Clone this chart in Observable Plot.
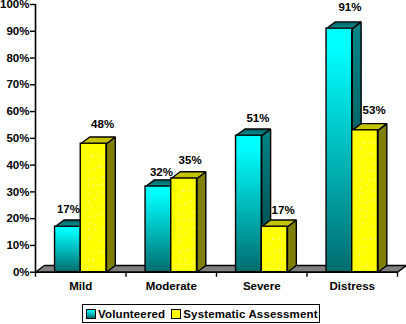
<!DOCTYPE html>
<html>
<head>
<meta charset="utf-8">
<script src="https://cdn.jsdelivr.net/npm/d3@7"></script>
<script src="https://cdn.jsdelivr.net/npm/@observablehq/plot@0.6"></script>
<style>
html,body{margin:0;padding:0;background:#fff;overflow:hidden}
svg{display:block}
#legend{position:absolute;left:82px;top:304px;width:236px;height:17px;border:1.5px solid #000;display:flex;align-items:center;font:bold 11.5px "Liberation Sans",Arial,sans-serif;letter-spacing:.15px;color:#000;background:#fff;white-space:nowrap}
#legend i{display:block;flex:none;box-sizing:border-box;width:10px;height:10px;border:1.5px solid #000;margin:0 2px 0 3px}
#legend span{display:block;flex:none;margin-right:3px}
</style>
</head>
<body>
<div id="chart"></div>
<div id="legend"></div>
<script>
const categories = ["Mild", "Moderate", "Severe", "Distress"];
const seriesNames = ["Volunteered", "Systematic Assessment"];
const volunteered = [17, 32, 51, 91];
const systematic = [48, 35, 17, 53];
const yTicks = [0, 10, 20, 30, 40, 50, 60, 70, 80, 90, 100];

// label nudges, in pixels, in bar order
const labelDx = [0.5, 9, 3, 6, 9, 8.5, 10.5, 9];
const labelDy = [-17.3, -19, -14.7, -18.5, -17, -16, -21.5, -20];

// speckle texture on the yellow bars: share across the bar, percentage points below the bar top
const speckleAcross = [.43,.5,.68,.86,.32,.77,.68,.53,.34,.5,.3,.86,.3,.5,.68,.86,.36,.64,.86,.57,.32,.4,.27,.86,.57,.68,.86,.36,.36,.53,.86,.3,.57,.4,.77,.3,.5,.73,.9,.3,.5,.46,.27,.3,.6,.45];
const speckleDepth = [4.75,4.5,4.5,5,6.75,8.5,8.9,9.5,10.1,12.9,13.5,12.25,15.75,15.75,15.4,15.1,18.5,18.9,18.5,20.75,21.6,23.25,24.1,22.9,27,26.6,26,27.25,29.75,30.4,31.25,32,32,34.75,36,35.4,40.75,40.4,40.4,43.5,43.5,45.75,46.6,49,50,51];

// 3-D depth of the pseudo-perspective, in scale units
const depthX = 0.098, depthY = 2.5, barW = 0.284;

const palette = {
  cyan: {front: "url(#cyanFront)", side: "url(#cyanSide)", top: "url(#cyanTop)"},
  yellow: {front: "#ffff00", side: "#808000", top: "#c4c400"}
};

const defs = () => d3.create("svg:defs").html(`
  <linearGradient id="cyanFront" x1="0" y1="0" x2="0" y2="1">
    <stop offset="0" stop-color="#00ffff"/><stop offset=".08" stop-color="#00ffff"/><stop offset="1" stop-color="#006c6e"/>
  </linearGradient>
  <linearGradient id="cyanSide" x1="0" y1="0" x2="0" y2="1">
    <stop offset="0" stop-color="#008688"/><stop offset="1" stop-color="#003c3e"/>
  </linearGradient>
  <linearGradient id="cyanTop" x1="0" y1="1" x2="0" y2="0">
    <stop offset="0" stop-color="#009a9c"/><stop offset="1" stop-color="#005c5e"/>
  </linearGradient>`).node();

const poly = (pts, fill) => Plot.line([...pts, pts[0]], {x: "0", y: "1", fill, stroke: "#000", strokeWidth: 1.4, strokeLinejoin: "miter"});

const bars = [];
categories.forEach((c, i) => {
  bars.push({x0: i + 0.5 - barW, v: volunteered[i], col: palette.cyan, yellow: false});
  bars.push({x0: i + 0.5, v: systematic[i], col: palette.yellow, yellow: true});
});
bars.forEach((b) => (b.x1 = b.x0 + barW));

const barMarks = bars.flatMap((b) => [
  poly([[b.x1, 0], [b.x1 + depthX, depthY], [b.x1 + depthX, b.v + depthY], [b.x1, b.v]], b.col.side),
  poly([[b.x0, b.v], [b.x0 + depthX, b.v + depthY], [b.x1 + depthX, b.v + depthY], [b.x1, b.v]], b.col.top),
  Plot.rect([b], {x1: "x0", x2: "x1", y1: 0, y2: "v", fill: b.col.front, stroke: "#000", strokeWidth: 1.4})
]);

const speckles = bars.filter((b) => b.yellow).flatMap((b) =>
  speckleAcross.map((a, k) => ({x: b.x0 + a * barW, y: b.v - speckleDepth[k]})).filter((d) => d.y > 0.6)
);

const labels = bars.map((b, i) => ({x: b.x0 + barW / 2, y: b.v, dx: labelDx[i], dy: labelDy[i]}));

const labelFont = {fontFamily: "'Liberation Sans',Arial,sans-serif", fontWeight: "bold", fontSize: 11.5, fill: "#000"};

const chart = Plot.plot({
  width: 406,
  height: 300,
  marginLeft: 35,
  marginRight: 9,
  marginTop: 4,
  marginBottom: 28.3,
  style: {background: "#fff", overflow: "visible"},
  x: {type: "linear", domain: [0, 4]},
  y: {type: "linear", domain: [0, 100]},
  marks: [
    defs,
    poly([[0, 0], [depthX, depthY], [4 + depthX, depthY], [4, 0]], "#808080"),
    ...barMarks,
    Plot.dot(speckles, {x: "x", y: "y", r: 0.6, fill: "#fff", stroke: "none"}),
    Plot.ruleX([0], {y1: 0, y2: 100, stroke: "#000", strokeWidth: 1.6}),
    Plot.ruleY([0], {stroke: "#000", strokeWidth: 1.6}),
    Plot.axisY({ticks: yTicks, tickSize: 5, tickPadding: 1, tickFormat: (d) => d + "%", label: null, strokeWidth: 1.4, ...labelFont, stroke: "#000"}),
    Plot.axisX({ticks: [0, 1, 2, 3, 4], tickSize: 5, tickFormat: () => "", label: null, strokeWidth: 1.4, stroke: "#000"}),
    Plot.text(categories, {x: (d, i) => i + 0.5, y: 0, text: (d) => d, dy: 14.5, dx: 0, ...labelFont}),
    ...labels.map((l) => Plot.text([l], {x: "x", y: "y", text: (d) => d.y + "%", dx: l.dx, dy: l.dy, ...labelFont}))
  ]
});
document.getElementById("chart").append(chart);

const legend = document.getElementById("legend");
seriesNames.forEach((name, i) => {
  const sw = document.createElement("i");
  sw.style.background = i === 0 ? "linear-gradient(#00ffff,#006c6e)" : "#ffff00";
  const t = document.createElement("span");
  t.textContent = name;
  legend.append(sw, t);
});
</script>
</body>
</html>
